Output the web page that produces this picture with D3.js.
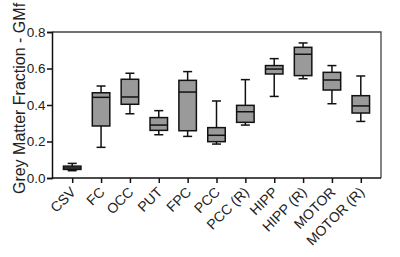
<!DOCTYPE html>
<html>
<head>
<meta charset="utf-8">
<script src="https://cdn.jsdelivr.net/npm/d3@7"></script>
<style>
  body { margin: 0; background: #fff; }
  text { font-family: "Liberation Sans", Arial, sans-serif; }
</style>
</head>
<body>
<script>
// regions (x axis)
const regions = ["CSV", "FC", "OCC", "PUT", "FPC", "PCC", "PCC (R)", "HIPP", "HIPP (R)", "MOTOR", "MOTOR (R)"];
// box plot stats
const whiskerLow  = [0.040, 0.168, 0.352, 0.237, 0.228, 0.186, 0.290, 0.447, 0.544, 0.407, 0.310];
const quart1      = [0.047, 0.285, 0.404, 0.261, 0.259, 0.199, 0.305, 0.570, 0.561, 0.482, 0.356];
const medians     = [0.055, 0.442, 0.444, 0.290, 0.471, 0.234, 0.363, 0.597, 0.678, 0.537, 0.395];
const quart3      = [0.065, 0.467, 0.541, 0.331, 0.535, 0.276, 0.398, 0.616, 0.716, 0.579, 0.451];
const whiskerHigh = [0.080, 0.504, 0.574, 0.369, 0.583, 0.422, 0.539, 0.654, 0.740, 0.616, 0.559];
const yTicks = [0, 0.2, 0.4, 0.6, 0.8];

const width = 400, height = 257;
const margin = { top: 32, right: 19, bottom: 79, left: 52 };

const svg = d3.select("body").append("svg")
  .attr("width", width)
  .attr("height", height);

const x = d3.scalePoint()
  .domain(regions)
  .range([margin.left, width - margin.right])
  .padding(0.7);

const y = d3.scaleLinear()
  .domain([0, 0.8])
  .range([height - margin.bottom, margin.top]);

// frame (top + right)
svg.append("path")
  .attr("d", `M${margin.left},${margin.top}H${width - margin.right}V${height - margin.bottom}`)
  .attr("fill", "none")
  .attr("stroke", "#444")
  .attr("stroke-width", 1.3);

const boxes = regions.map((r, i) => ({
  name: r, lo: whiskerLow[i], q1: quart1[i], med: medians[i], q3: quart3[i], hi: whiskerHigh[i]
}));

const boxW = 17.5, capW = 9;
const g = svg.selectAll(".box").data(boxes).enter().append("g")
  .attr("stroke", "#111")
  .attr("stroke-width", 1.5);

// whiskers
g.append("line")
  .attr("x1", d => x(d.name)).attr("x2", d => x(d.name))
  .attr("y1", d => y(d.lo)).attr("y2", d => y(d.hi));
g.append("line")
  .attr("x1", d => x(d.name) - capW / 2).attr("x2", d => x(d.name) + capW / 2)
  .attr("y1", d => y(d.lo)).attr("y2", d => y(d.lo));
g.append("line")
  .attr("x1", d => x(d.name) - capW / 2).attr("x2", d => x(d.name) + capW / 2)
  .attr("y1", d => y(d.hi)).attr("y2", d => y(d.hi));
// box
g.append("rect")
  .attr("x", d => x(d.name) - boxW / 2)
  .attr("width", boxW)
  .attr("y", d => y(d.q3))
  .attr("height", d => y(d.q1) - y(d.q3))
  .attr("fill", "#9a9a9a");
// median
g.append("line")
  .attr("x1", d => x(d.name) - boxW / 2).attr("x2", d => x(d.name) + boxW / 2)
  .attr("y1", d => y(d.med)).attr("y2", d => y(d.med));

// y axis
const yAxis = svg.append("g")
  .attr("transform", `translate(${margin.left},0)`)
  .call(d3.axisLeft(y).tickValues(yTicks).tickFormat(d3.format(".1f")).tickSize(5).tickPadding(1.5));
yAxis.select(".domain").attr("stroke", "#111").attr("stroke-width", 1.5);
yAxis.selectAll(".tick line").attr("stroke", "#111").attr("stroke-width", 1.5);
yAxis.selectAll("text").attr("font-size", 13.5).attr("fill", "#222")
  .style("font-family", "'Liberation Sans', Arial, sans-serif");

// x axis
const xAxis = svg.append("g")
  .attr("transform", `translate(0,${height - margin.bottom})`)
  .call(d3.axisBottom(x).tickSize(5).tickSizeOuter(0));
xAxis.select(".domain").attr("stroke", "#111").attr("stroke-width", 1.5)
  .attr("d", `M${margin.left},0H${width - margin.right}`);
xAxis.selectAll(".tick line").attr("stroke", "#111").attr("stroke-width", 1.5);
xAxis.selectAll("text")
  .attr("font-size", 14)
  .attr("fill", "#222")
  .style("font-family", "'Liberation Sans', Arial, sans-serif")
  .attr("text-anchor", "end")
  .attr("dy", null)
  .attr("transform", "translate(4,15) rotate(-45)")
  .attr("y", 0).attr("x", 0);

// y label
svg.append("text")
  .attr("transform", `translate(25,98.5) rotate(-90)`)
  .attr("text-anchor", "middle")
  .attr("font-size", 16)
  .attr("fill", "#222")
  .text("Grey Matter Fraction - GMf");
</script>
</body>
</html>
